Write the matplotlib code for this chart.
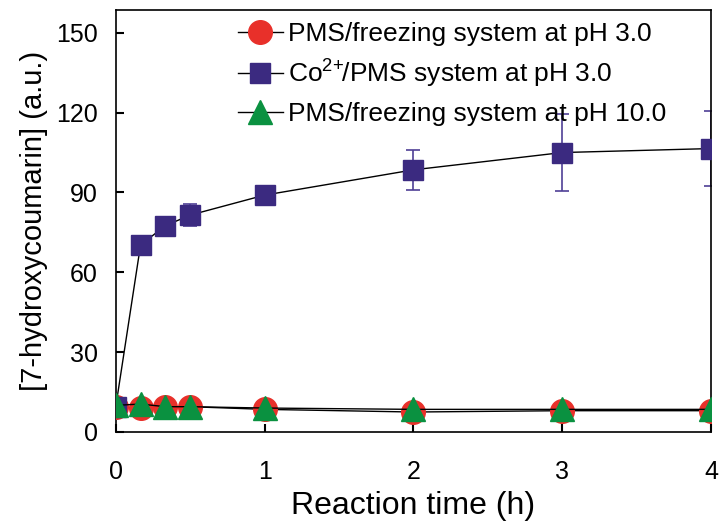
import numpy as np
import matplotlib
matplotlib.use("Agg")
import matplotlib.pyplot as plt

# --- Data ---
time_h = [0, 1/6, 1/3, 0.5, 1, 2, 3, 4]
pms_ph3 = [9.5, 9.0, 9.5, 9.5, 8.5, 7.5, 8.0, 8.0]
co_pms = [9.5, 70.3, 77.5, 81.5, 89.0, 98.5, 105.0, 106.5]
co_pms_err = [0.0, 0.0, 0.0, 4.0, 1.5, 7.5, 14.5, 14.0]
pms_ph10 = [10.0, 10.5, 9.5, 9.5, 9.0, 8.5, 8.5, 8.5]

labels = ["PMS/freezing system at pH 3.0",
          r"Co$^{2\!+\!\!}$/PMS system at pH 3.0",
          "PMS/freezing system at pH 10.0"]

plt.rcParams["font.family"] = ["Liberation Sans", "DejaVu Sans"]
plt.rcParams["mathtext.fontset"] = "custom"
plt.rcParams["mathtext.rm"] = "Liberation Sans"
plt.rcParams["mathtext.default"] = "regular"

fig = plt.figure(figsize=(7.19, 5.24), dpi=100)
ax = fig.add_axes([0.161, 0.1756, 0.828, 0.805])

l1, = ax.plot(time_h, pms_ph3, color="black", lw=1, marker="o", ms=17,
              mfc="#e8302a", mec="#e8302a", zorder=3)
ax.errorbar(time_h, co_pms, yerr=co_pms_err, fmt="none", ecolor="#4f3f96",
            elinewidth=1.2, capsize=4.7, capthick=1.2, zorder=2)
l2, = ax.plot(time_h, co_pms, color="black", lw=1, marker="s", ms=14,
              mfc="#3b2a80", mec="#3b2a80", zorder=4)
l3, = ax.plot(time_h, pms_ph10, color="black", lw=1, marker="^", ms=17,
              mfc="#0a9140", mec="#0a9140", zorder=5)

ax.set_xlim(0, 4)
ax.set_ylim(0, 158.5)
ax.set_xticks([0, 1, 2, 3, 4])
ax.set_yticks([0, 30, 60, 90, 120, 150])
ax.tick_params(direction="in", length=6, width=1.5, labelsize=18,
               top=False, right=False)
ax.tick_params(axis="x", pad=20)
ax.tick_params(axis="y", pad=13)
for sp in ax.spines.values():
    sp.set_linewidth(1.2)

ax.set_xlabel("Reaction time (h)", fontsize=23, labelpad=5)
ax.set_ylabel("[7-hydroxycoumarin] (a.u.)", fontsize=21, labelpad=6)

ax.legend([l1, l2, l3], labels, loc="upper left", bbox_to_anchor=(0.205, 0.972),
          frameon=False, fontsize=19, handlelength=1.7, handletextpad=0.2,
          labelspacing=0.45, borderaxespad=0, borderpad=0)

fig.savefig("out.png", dpi=100)
